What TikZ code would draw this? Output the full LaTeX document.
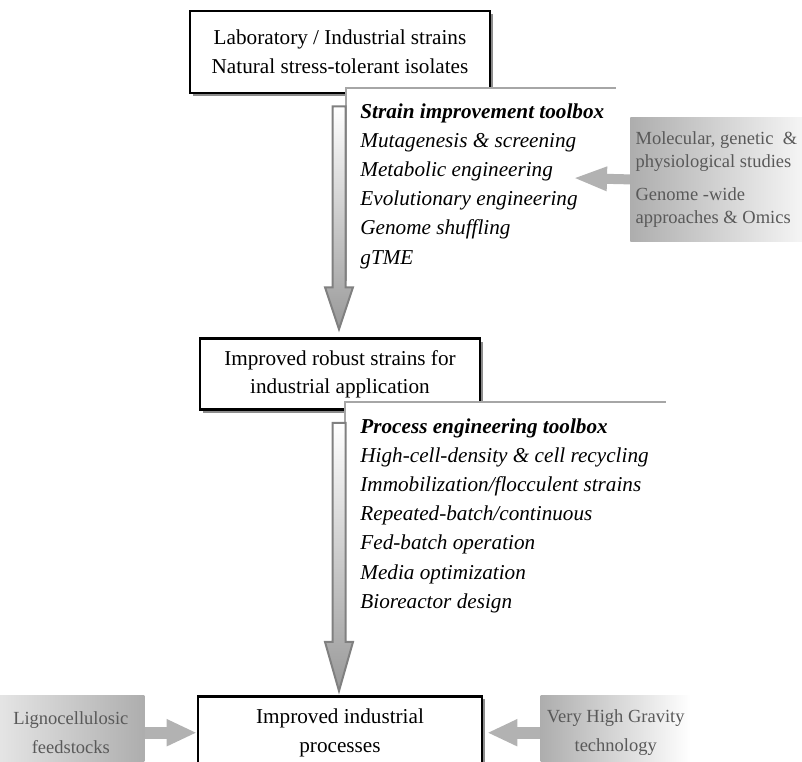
\documentclass[tikz,border=0pt]{standalone}
\usepackage{fontspec}
\setmainfont{Liberation Serif}
\usetikzlibrary{positioning, arrows.meta, shadows, calc}

\tikzset{
  mainbox/.style={rectangle, draw, line width=1.3pt, fill=white, align=center,
    font=\fontsize{10.6}{14.6}\selectfont, inner sep=0pt,
    drop shadow={shadow xshift=1.6pt, shadow yshift=-1.6pt, fill=black!45, opacity=1}},
  toolpanel/.style={rectangle, fill=white, inner sep=0pt, anchor=north west},
  panelline/.style={draw=black!35, line width=0.9pt},
  tooltext/.style={align=left, inner sep=0pt, anchor=north west,
    font=\fontsize{10.6}{14.6}\selectfont\itshape},
  greybox/.style={rectangle, inner sep=0pt, align=center, text=black!65,
    font=\fontsize{9.25}{14.5}\selectfont},
  bigarrow/.style={draw=black!50, line width=1pt, top color=white, bottom color=black!40},
  fatarrow/.style={draw=black!30, line width=6pt, -{Triangle[length=15pt, width=12.5pt]}}
}

\begin{document}
\begin{tikzpicture}[x=0.5pt, y=-0.5pt]

  \useasboundingbox (0,0) rectangle (802,761);
  \clip (0,0) rectangle (802,761);

  % main boxes
  \node [mainbox, minimum width=150pt, minimum height=41pt] (source) at (340,52)
  {Laboratory / Industrial strains\\ Natural stress-tolerant isolates};

  \node [mainbox, minimum width=140pt, minimum height=35.5pt,
         font=\fontsize{10.6}{13.8}\selectfont] (robust) [below = 121.5pt of source]
  {Improved robust strains for\\ industrial application};

  \node [mainbox, minimum width=142pt, minimum height=36.5pt] (process) [below = 142pt of robust]
  {Improved industrial\\ processes};

  % toolboxes
  \node [toolpanel, minimum width=134.5pt, minimum height=96pt] (strainpanel) at (346,88) {};
  \draw [panelline] (strainpanel.south west) |- (strainpanel.north east);
  \node [tooltext] (strainlist) at (360,103)
  {\textbf{Strain improvement toolbox}\\
   Mutagenesis \& screening\\
   Metabolic engineering\\
   Evolutionary engineering\\
   Genome shuffling\\
   gTME};

  \node [toolpanel, minimum width=160pt, minimum height=111pt] (processpanel) at (345,402) {};
  \draw [panelline] (processpanel.south west) |- (processpanel.north east);
  \node [tooltext] (processlist) at (360,418)
  {\textbf{Process engineering toolbox}\\
   High-cell-density \& cell recycling\\
   Immobilization/flocculent strains\\
   Repeated-batch/continuous\\
   Fed-batch operation\\
   Media optimization\\
   Bioreactor design};

  % grey input boxes
  \node [greybox, left color=black!32, right color=black!4, align=left,
         font=\fontsize{9.25}{11.5}\selectfont,
         minimum width=86pt, minimum height=62pt, anchor=north west] (studies) at (630,117)
  {Molecular, genetic \ \&\\ physiological studies\\[5pt] Genome -wide\\ approaches \& Omics};

  \node [greybox, left color=black!10, right color=black!32,
         minimum width=73.5pt, minimum height=37pt] (feed) [left = 26pt of process]
  {Lignocellulosic\\ feedstocks};

  \node [greybox, left color=black!32, right color=white,
         minimum width=75pt, minimum height=37pt] (gravity) [right = 28.5pt of process]
  {Very High Gravity\\ technology};

  % big arrows
  \path [bigarrow] ($(source.south)+(-7.5,12)$) -- ($(source.south)+(5.5,12)$)
    -- ($(robust.north)+(5.5,-50)$) -- ($(robust.north)+(13,-50)$)
    -- ($(robust.north)+(-1,-8)$) -- ($(robust.north)+(-15,-50)$)
    -- ($(robust.north)+(-7.5,-50)$) -- cycle;

  \path [bigarrow] ($(robust.south)+(-7.5,12)$) -- ($(robust.south)+(5.5,12)$)
    -- ($(process.north)+(5.5,-53)$) -- ($(process.north)+(13,-53)$)
    -- ($(process.north)+(-1,-4)$) -- ($(process.north)+(-15,-53)$)
    -- ($(process.north)+(-7.5,-53)$) -- cycle;

  % side arrows
  \coordinate (studiestip) at (573,178);
  \draw [fatarrow, line width=5pt, -{Triangle[length=17pt, width=11pt]}] (studies.west) -- (studiestip);
  \draw [fatarrow] (feed.east) -- (process.west);
  \draw [fatarrow, shorten >=2pt] (gravity.west) -- (process.east);

\end{tikzpicture}
\end{document}
